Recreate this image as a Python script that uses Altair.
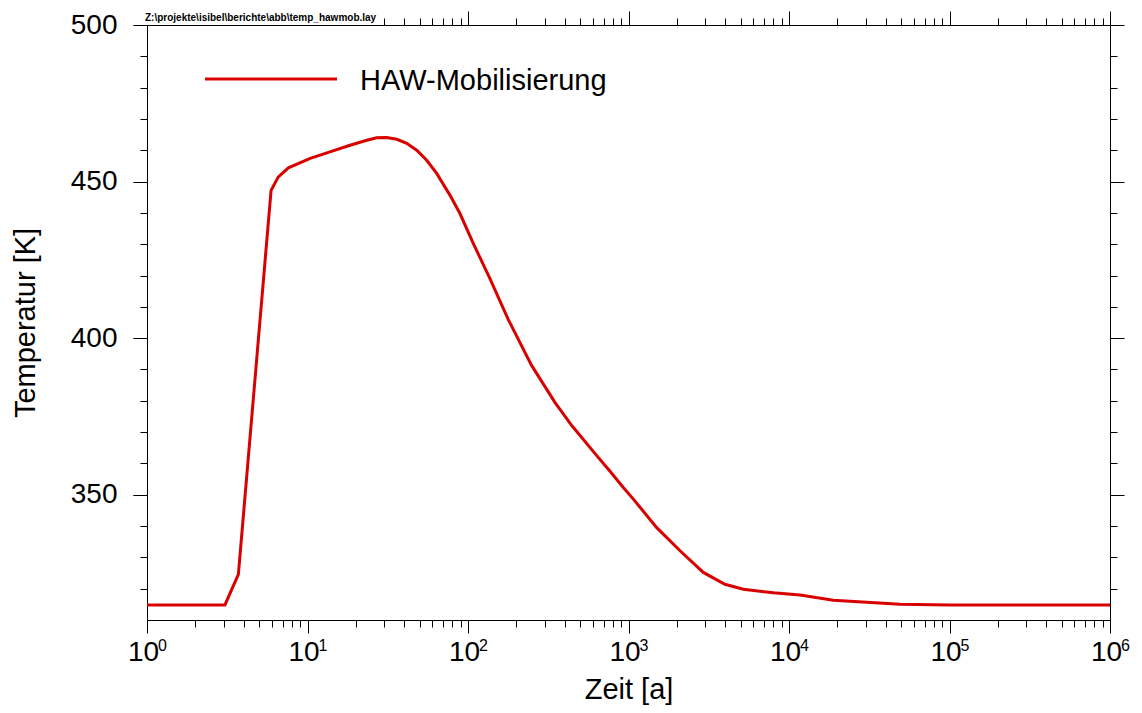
import altair as alt
import pandas as pd

# ---- data ----
years = [1, 3.06, 3.71, 5.93, 6.58, 7.6, 10.4, 13.8, 18.4, 23.4,
         27, 31.1, 36, 41.5, 47.9, 55.3, 63.8, 77.3, 89.1, 108,
         137, 178, 249, 348, 443, 634, 767, 928, 1072, 1499,
         2094, 2924, 3990, 5190, 7980, 11720, 18880, 49200, 100000, 1000000]
temps = [314.8, 314.8, 324.6, 447.2, 451.5, 454.4, 457.4, 459.5, 461.6, 463.2,
         464.0, 464.1, 463.5, 462.2, 460.0, 456.8, 452.6, 445.6, 439.8, 430.2,
         419.0, 406.0, 391.3, 379.5, 372.1, 362.5, 357.5, 352.3, 348.6, 339.5,
         332.1, 325.2, 321.4, 319.8, 318.7, 318.0, 316.3, 315.0, 314.8, 314.8]

series_name = ["HAW-Mobilisierung"]
file_path = ["Z:\\projekte\\isibel\\berichte\\abb\\temp_hawmob.lay"]

x_decades = [1, 10, 100, 1000, 10000, 100000, 1000000]
x_minor = [m * 10 ** k for k in range(6) for m in range(2, 10)]
x_top_major = [v for v in x_decades if v >= 100]
x_top_minor = [v for v in x_minor if v >= 30]
y_major = [350, 400, 450, 500]
y_minor = [320, 330, 340, 360, 370, 380, 390, 410, 420, 430, 440, 460, 470, 480, 490]

W, H = 963, 595
RED = "#d90000"
FONT = "Liberation Sans"

df = pd.DataFrame({"t": years, "T": temps})
leg = pd.DataFrame({"label": series_name})
pth = pd.DataFrame({"path": file_path})

xs = alt.Scale(type="log", domain=[1, 1000000], nice=False)
ys = alt.Scale(domain=[310, 500], nice=False, zero=False)

common = dict(grid=False, domainColor="black", tickColor="black",
              domainWidth=1, tickWidth=1, labelFont=FONT, labelColor="black",
              titleFont=FONT, titleColor="black", labelOverlap=False,
              labelFlush=False)


def ax(**kw):
    d = dict(common)
    d.update(kw)
    return alt.Axis(**d)


def layer(xaxis, yaxis, visible=False):
    m = alt.Chart(df).mark_line(color=RED, strokeWidth=3,
                                strokeOpacity=1 if visible else 0)
    return m.encode(
        x=alt.X("t:Q", scale=xs, axis=xaxis),
        y=alt.Y("T:Q", scale=ys, axis=yaxis),
    )


l1 = layer(
    ax(orient="bottom", values=x_decades, tickSize=13, labelExpr="'10'",
       labelFontSize=28, labelPadding=5, labelOffset=-4,
       title="Zeit [a]", titleFontSize=29, titleFontWeight="normal",
       titleY=78, titleBaseline="alphabetic"),
    ax(orient="left", values=y_major, tickSize=14, labelFontSize=28,
       labelPadding=16, title="Temperatur [K]", titleFontSize=29,
       titleFontWeight="normal", titleX=-113, titleY=H / 2, titleAngle=270,
       titleBaseline="alphabetic", titleAlign="center"),
    visible=True,
)
l2 = layer(
    ax(orient="bottom", values=x_minor, tickSize=7, labels=False, domain=False, title=None),
    ax(orient="left", values=y_minor, tickSize=7, labels=False, domain=False, title=None),
)
l3 = layer(
    ax(orient="bottom", values=x_decades, ticks=False, tickSize=0, domain=False,
       labelExpr="format(round(log(datum.value) / LN10), 'd')",
       labelFontSize=16, labelOffset=15, labelPadding=17, title=None),
    ax(orient="right", values=y_major, tickSize=14, labels=False, title=None),
)
l4 = layer(
    ax(orient="top", values=x_top_major, tickSize=14, labels=False, title=None),
    ax(orient="right", values=y_minor, tickSize=7, labels=False, domain=False, title=None),
)
l5 = layer(
    ax(orient="top", values=x_top_minor, tickSize=7, labels=False, domain=False, title=None),
    ax(orient="left", values=y_major, tickSize=14, labels=False, domain=False, title=None),
)

legend_line = alt.Chart(leg).mark_rule(color=RED, strokeWidth=3).encode(
    x=alt.value(58), x2=alt.value(190), y=alt.value(54)
)
legend_text = alt.Chart(leg).mark_text(
    align="left", baseline="alphabetic", fontSize=29, font=FONT, color="black"
).encode(x=alt.value(213), y=alt.value(64.5), text="label:N")

path_text = alt.Chart(pth).mark_text(
    align="left", baseline="alphabetic", fontSize=10, font=FONT,
    fontWeight="bold", color="black"
).encode(x=alt.value(-2), y=alt.value(-4), text="path:N")

chart = alt.layer(l1, l2, l3, l4, l5, legend_line, legend_text, path_text).resolve_axis(
    x="independent", y="independent"
).properties(
    width=W, height=H,
    padding={"left": 147, "top": 25, "right": 32, "bottom": 93},
    autosize=alt.AutoSizeParams(type="none"),
    background="white",
).configure_view(stroke="transparent")

chart.save("out.html", embed_options={"renderer": "svg", "actions": False})
